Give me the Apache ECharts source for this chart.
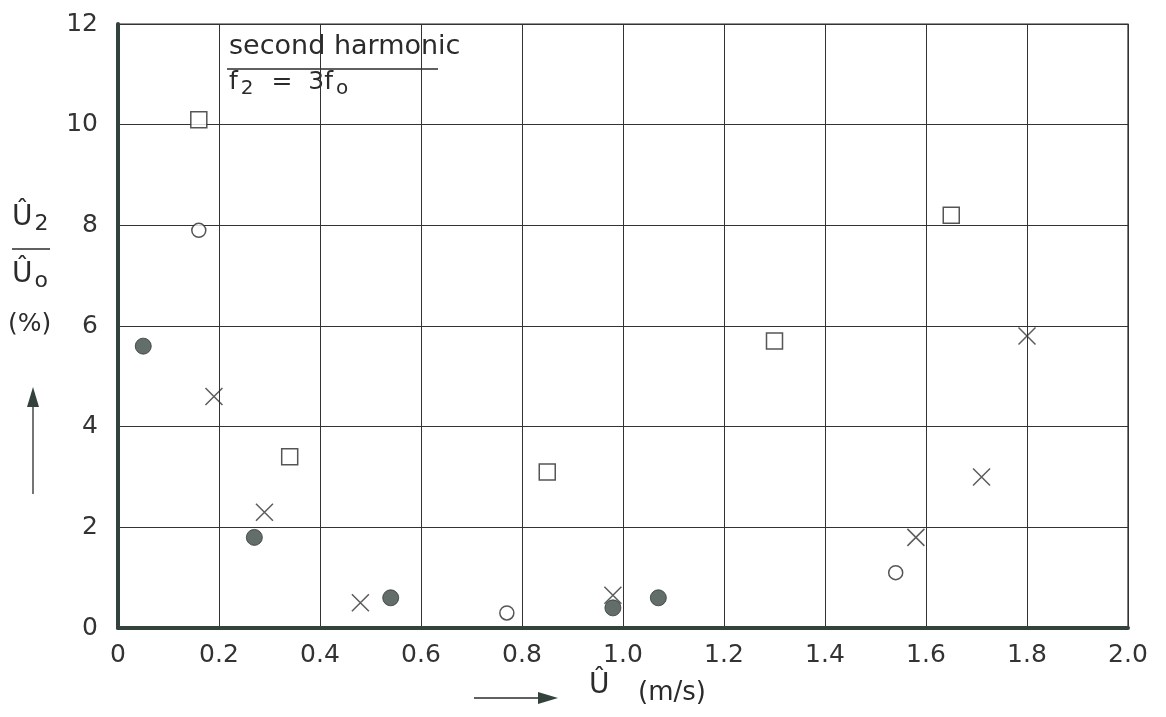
<!DOCTYPE html>
<html><head><meta charset="utf-8">
<script src="https://cdn.jsdelivr.net/npm/echarts@6/dist/echarts.min.js"></script>
<style>html,body{margin:0;padding:0;background:#fff}#c{width:1166px;height:717px}</style>
</head><body><div id="c"></div>
<script>
// Data: [U (m/s), U2/U0 (%)]
const squares = [[0.16, 10.1], [0.34, 3.4], [0.85, 3.1], [1.3, 5.7], [1.65, 8.2]];
const openCircles = [[0.16, 7.9], [0.77, 0.3], [1.54, 1.1]];
const filledCircles = [[0.05, 5.6], [0.27, 1.8], [0.54, 0.6], [0.98, 0.4], [1.07, 0.6]];
const crosses = [[0.19, 4.6], [0.29, 2.3], [0.48, 0.5], [0.98, 0.65], [1.58, 1.8], [1.71, 3.0], [1.8, 5.8]];
const xTicks = ['0','0.2','0.4','0.6','0.8','1.0','1.2','1.4','1.6','1.8','2.0'];
const yTicks = ['0','2','4','6','8','10','12'];

const ink = '#2b2b2b';
const font = '"DejaVu Sans"';
const chart = echarts.init(document.getElementById('c'));
chart.setOption({
  backgroundColor: '#fff',
  animation: false,
  grid: {left: 118, right: 38, top: 24, bottom: 89, show: true, borderColor: ink, borderWidth: 1.2},
  xAxis: {
    type: 'value', min: 0, max: 2, interval: 0.2,
    axisLine: {show: true, lineStyle: {color: '#34423c', width: 4}},
    axisTick: {show: false},
    splitLine: {show: true, lineStyle: {color: '#333', width: 1}},
    axisLabel: {margin: 15, fontFamily: font, fontSize: 25, color: '#333',
      formatter: v => xTicks[Math.round(v / 0.2)]}
  },
  yAxis: {
    type: 'value', min: 0, max: 12, interval: 2,
    axisLine: {show: true, lineStyle: {color: '#34423c', width: 4}},
    axisTick: {show: false},
    splitLine: {show: true, lineStyle: {color: '#333', width: 1}},
    axisLabel: {margin: 20, fontFamily: font, fontSize: 25, color: '#333',
      formatter: v => yTicks[Math.round(v / 2)]}
  },
  series: [
    {type: 'scatter', data: squares, symbol: 'rect', symbolSize: 16,
      itemStyle: {color: '#fff', borderColor: ink, borderWidth: 1.5}},
    {type: 'scatter', data: openCircles, symbol: 'circle', symbolSize: 14,
      itemStyle: {color: '#fff', borderColor: ink, borderWidth: 1.5}},
    {type: 'scatter', data: filledCircles, symbol: 'circle', symbolSize: 16,
      itemStyle: {color: '#3c4a45', borderColor: '#2f3a36', borderWidth: 1}},
    {type: 'scatter', data: crosses, symbol: 'path://M0,0L10,10M10,0L0,10', symbolSize: 17,
      itemStyle: {color: 'none', borderColor: '#333', borderWidth: 1.5}}
  ],
  graphic: [
    // annotation
    {type: 'text', left: 229, top: 33, style: {text: 'second harmonic', font: '27px ' + font, fill: ink}},
    {type: 'line', shape: {x1: 227, y1: 69, x2: 438, y2: 69}, style: {stroke: ink, lineWidth: 1.3}},
    {type: 'text', left: 229, top: 70, style: {
      text: '{a|f}{s|2}{a|  =  3f}{s|o}',
      rich: {a: {font: '25px ' + font, fill: ink}, s: {font: '20px ' + font, fill: ink, padding: [12, 2, 0, 3]}}
    }},
    // y label
    {type: 'text', left: 12, top: 204, style: {
      text: '{a|Û}{s|2}',
      rich: {a: {font: '28px ' + font, fill: ink}, s: {font: '22px ' + font, fill: ink, padding: [12, 0, 0, 2]}}
    }},
    {type: 'line', shape: {x1: 12, y1: 249, x2: 50, y2: 249}, style: {stroke: ink, lineWidth: 1.3}},
    {type: 'text', left: 12, top: 261, style: {
      text: '{a|Û}{s|o}',
      rich: {a: {font: '28px ' + font, fill: ink}, s: {font: '22px ' + font, fill: ink, padding: [12, 0, 0, 2]}}
    }},
    {type: 'text', left: 8, top: 312, style: {text: '(%)', font: '25px ' + font, fill: ink}},
    {type: 'line', shape: {x1: 33, y1: 400, x2: 33, y2: 494}, style: {stroke: ink, lineWidth: 1.3}},
    {type: 'polygon', shape: {points: [[33, 387], [27, 407], [39, 407]]}, style: {fill: '#34423c'}},
    // x label
    {type: 'line', shape: {x1: 474, y1: 698, x2: 545, y2: 698}, style: {stroke: ink, lineWidth: 1.3}},
    {type: 'polygon', shape: {points: [[558, 698], [538, 692], [538, 704]]}, style: {fill: '#34423c'}},
    {type: 'text', left: 589, top: 672, style: {text: 'Û', font: '28px ' + font, fill: ink}},
    {type: 'text', left: 638, top: 680, style: {text: '(m/s)', font: '26px ' + font, fill: ink}}
  ]
});
</script></body></html>
